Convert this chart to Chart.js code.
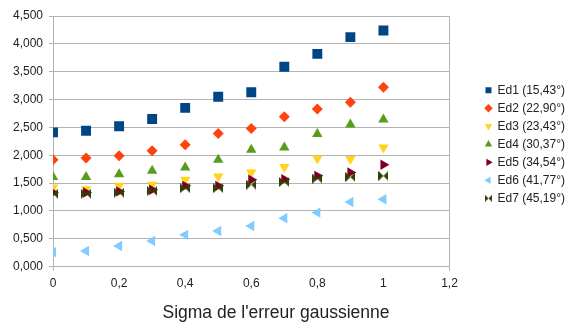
<!DOCTYPE html>
<html>
<head>
<meta charset="utf-8">
<script src="https://cdn.jsdelivr.net/npm/chart.js@4.4.0/dist/chart.umd.min.js"></script>
<style>
  html, body { margin: 0; padding: 0; background: #fff; }
  #wrap { width: 569px; height: 327px; }
</style>
</head>
<body>
<div id="wrap"><canvas id="chart"></canvas></div>
<script>
// Sigma values (x) shared by all series
const sigma = [0, 0.1, 0.2, 0.3, 0.4, 0.5, 0.6, 0.7, 0.8, 0.9, 1.0];

const seriesNames = ['Ed1 (15,43°)', 'Ed2 (22,90°)', 'Ed3 (23,43°)', 'Ed4 (30,37°)',
  'Ed5 (34,54°)', 'Ed6 (41,77°)', 'Ed7 (45,19°)'];

const ed1 = [2.41, 2.44, 2.52, 2.65, 2.85, 3.05, 3.13, 3.59, 3.82, 4.12, 4.24];
const ed2 = [1.92, 1.95, 1.99, 2.08, 2.19, 2.39, 2.48, 2.69, 2.83, 2.95, 3.22];
const ed3 = [1.42, 1.39, 1.45, 1.47, 1.56, 1.62, 1.69, 1.79, 1.94, 1.93, 2.14];
const ed4 = [1.61, 1.61, 1.66, 1.72, 1.78, 1.92, 2.10, 2.14, 2.38, 2.55, 2.64];
const ed5 = [1.33, 1.33, 1.35, 1.38, 1.45, 1.45, 1.56, 1.57, 1.63, 1.69, 1.83];
const ed6 = [0.26, 0.28, 0.37, 0.46, 0.57, 0.64, 0.73, 0.87, 0.97, 1.16, 1.21];
const ed7 = [1.31, 1.31, 1.33, 1.36, 1.41, 1.41, 1.47, 1.52, 1.58, 1.61, 1.63];

const colors = ['#004586', '#ff420e', '#ffd320', '#579d1c', '#7e0021', '#83caff', '#314004'];

// bow-tie marker (two triangles facing each other), not built into Chart.js
function bowtie(size, color) {
  const c = document.createElement('canvas');
  c.width = size;
  c.height = size;
  const g = c.getContext('2d');
  g.fillStyle = color;
  g.beginPath();
  g.moveTo(0, 0);
  g.lineTo(size / 2, size / 2);
  g.lineTo(0, size);
  g.closePath();
  g.moveTo(size, 0);
  g.lineTo(size / 2, size / 2);
  g.lineTo(size, size);
  g.closePath();
  g.fill();
  return c;
}

const bowBig = bowtie(10, colors[6]);
const bowSmall = bowtie(7, colors[6]);

const allValues = [ed1, ed2, ed3, ed4, ed5, ed6, ed7];
const styles = [
  { pointStyle: 'rect', radius: 7, rotation: 0 },
  { pointStyle: 'rectRot', radius: 5.5, rotation: 0 },
  { pointStyle: 'triangle', radius: 6, rotation: 180 },
  { pointStyle: 'triangle', radius: 6, rotation: 0 },
  { pointStyle: 'triangle', radius: 6, rotation: 90 },
  { pointStyle: 'triangle', radius: 6, rotation: 270 },
  { pointStyle: bowBig, radius: 5, rotation: 0 }
];

const datasets = allValues.map((vals, i) => ({
  label: seriesNames[i],
  data: sigma.map((x, j) => ({ x: x, y: vals[j] })),
  backgroundColor: colors[i],
  borderColor: colors[i],
  borderWidth: 0,
  pointStyle: styles[i].pointStyle,
  pointRadius: styles[i].radius,
  pointHoverRadius: styles[i].radius,
  rotation: styles[i].rotation,
  order: 6 - i
}));

const FONT = "'Liberation Sans', Arial, sans-serif";

// push the legend away from the plot, as in the original
const legendShift = {
  id: 'legendShift',
  afterLayout(chart) {
    const lg = chart.legend;
    if (!lg) return;
    lg.left += 30;
    lg.right += 30;
    lg.top += 3;
    lg.bottom += 3;
  }
};

new Chart(document.getElementById('chart'), {
  type: 'scatter',
  data: { datasets: datasets },
  plugins: [legendShift],
  options: {
    responsive: true,
    maintainAspectRatio: false,
    animation: false,
    layout: { padding: { top: 16, left: 7, right: 24, bottom: 3 } },
    plugins: {
      tooltip: { enabled: false },
      legend: {
        position: 'right',
        fullSize: false,
        labels: {
          usePointStyle: true,
          boxWidth: 6,
          boxHeight: 6,
          padding: 6,
          color: '#222',
          font: { family: FONT, size: 12 },
          sort: (a, b) => a.datasetIndex - b.datasetIndex,
          generateLabels: (chart) => {
            const items = Chart.defaults.plugins.legend.labels.generateLabels(chart);
            items.forEach(it => {
              if (it.datasetIndex === 6) it.pointStyle = bowSmall;
            });
            return items;
          }
        }
      },
      title: {
        display: true,
        position: 'bottom',
        text: "Sigma de l'erreur gaussienne",
        color: '#222',
        font: { family: FONT, size: 17.5, weight: 'normal' },
        padding: { top: 6, bottom: 0 }
      }
    },
    scales: {
      x: {
        type: 'linear',
        min: 0,
        max: 1.2,
        ticks: {
          stepSize: 0.2,
          padding: 6,
          color: '#222',
          font: { family: FONT, size: 12 },
          callback: v => String(parseFloat(v.toFixed(1))).replace('.', ',')
        },
        grid: {
          color: ctx => (ctx.tick && (Math.abs(ctx.tick.value) < 1e-6 || Math.abs(ctx.tick.value - 1.2) < 1e-6)) ? '#b3b3b3' : 'rgba(0,0,0,0)',
          tickLength: 4
        },
        border: { color: '#b3b3b3' }
      },
      y: {
        min: 0,
        max: 4.5,
        ticks: {
          stepSize: 0.5,
          padding: 6,
          color: '#222',
          font: { family: FONT, size: 12 },
          callback: v => v.toFixed(3).replace('.', ',')
        },
        grid: { color: '#b3b3b3', tickLength: 4 },
        border: { color: '#b3b3b3' }
      }
    }
  }
});
</script>
</body>
</html>
